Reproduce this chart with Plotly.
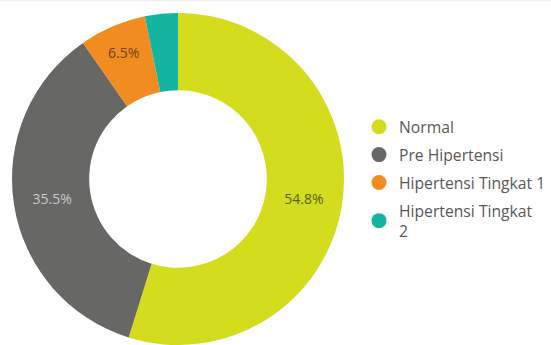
import plotly.graph_objects as go

# Blood pressure categories and their share (%)
categories = ["Normal", "Pre Hipertensi", "Hipertensi Tingkat 1", "Hipertensi Tingkat 2"]
legend_labels = ["Normal", "Pre Hipertensi", "Hipertensi Tingkat 1", "Hipertensi Tingkat<br>2"]
shares = [54.8, 35.5, 6.5, 3.2]
show_label = [True, True, True, False]

colors = ["#D3DD1E", "#676765", "#F08C20", "#13B4A0"]
label_colors = ["#5A5F16", "#C9C9C7", "#6A4417", "#13B4A0"]

slice_text = [f"{v}%" if s else "" for v, s in zip(shares, show_label)]

fig = go.Figure()

fig.add_trace(go.Pie(
    labels=categories,
    values=shares,
    text=slice_text,
    textinfo="text",
    textposition="inside",
    insidetextorientation="horizontal",
    hole=0.535,
    sort=False,
    direction="clockwise",
    rotation=0,
    marker=dict(colors=colors, line=dict(width=0)),
    textfont=dict(family="Open Sans", size=14, color=label_colors),
    showlegend=False,
    domain=dict(x=[12 / 551, 344 / 551], y=[0, 1 - 13 / 345]),
    hoverinfo="label+percent",
))

# Legend entries with round markers
for name, col in zip(legend_labels, colors):
    fig.add_trace(go.Scatter(
        x=[None], y=[None], mode="markers", name=name,
        legendgroup=name,
        marker=dict(symbol="circle", size=15, color=col),
        showlegend=True,
    ))

fig.update_layout(
    width=551, height=345,
    margin=dict(l=0, r=0, t=0, b=0),
    paper_bgcolor="white", plot_bgcolor="white",
    xaxis=dict(visible=False), yaxis=dict(visible=False),
    legend=dict(
        x=359 / 551, y=1 - 110 / 345, xanchor="left", yanchor="top",
        font=dict(family="Open Sans", size=15.7, color="#585858"),
        tracegroupgap=4.5,
        bgcolor="rgba(0,0,0,0)",
    ),
    shapes=[dict(type="line", xref="paper", yref="paper",
                 x0=0, x1=1, y0=0.998, y1=0.998,
                 line=dict(color="#ECECEC", width=1))],
)

fig.write_html("out.html")
